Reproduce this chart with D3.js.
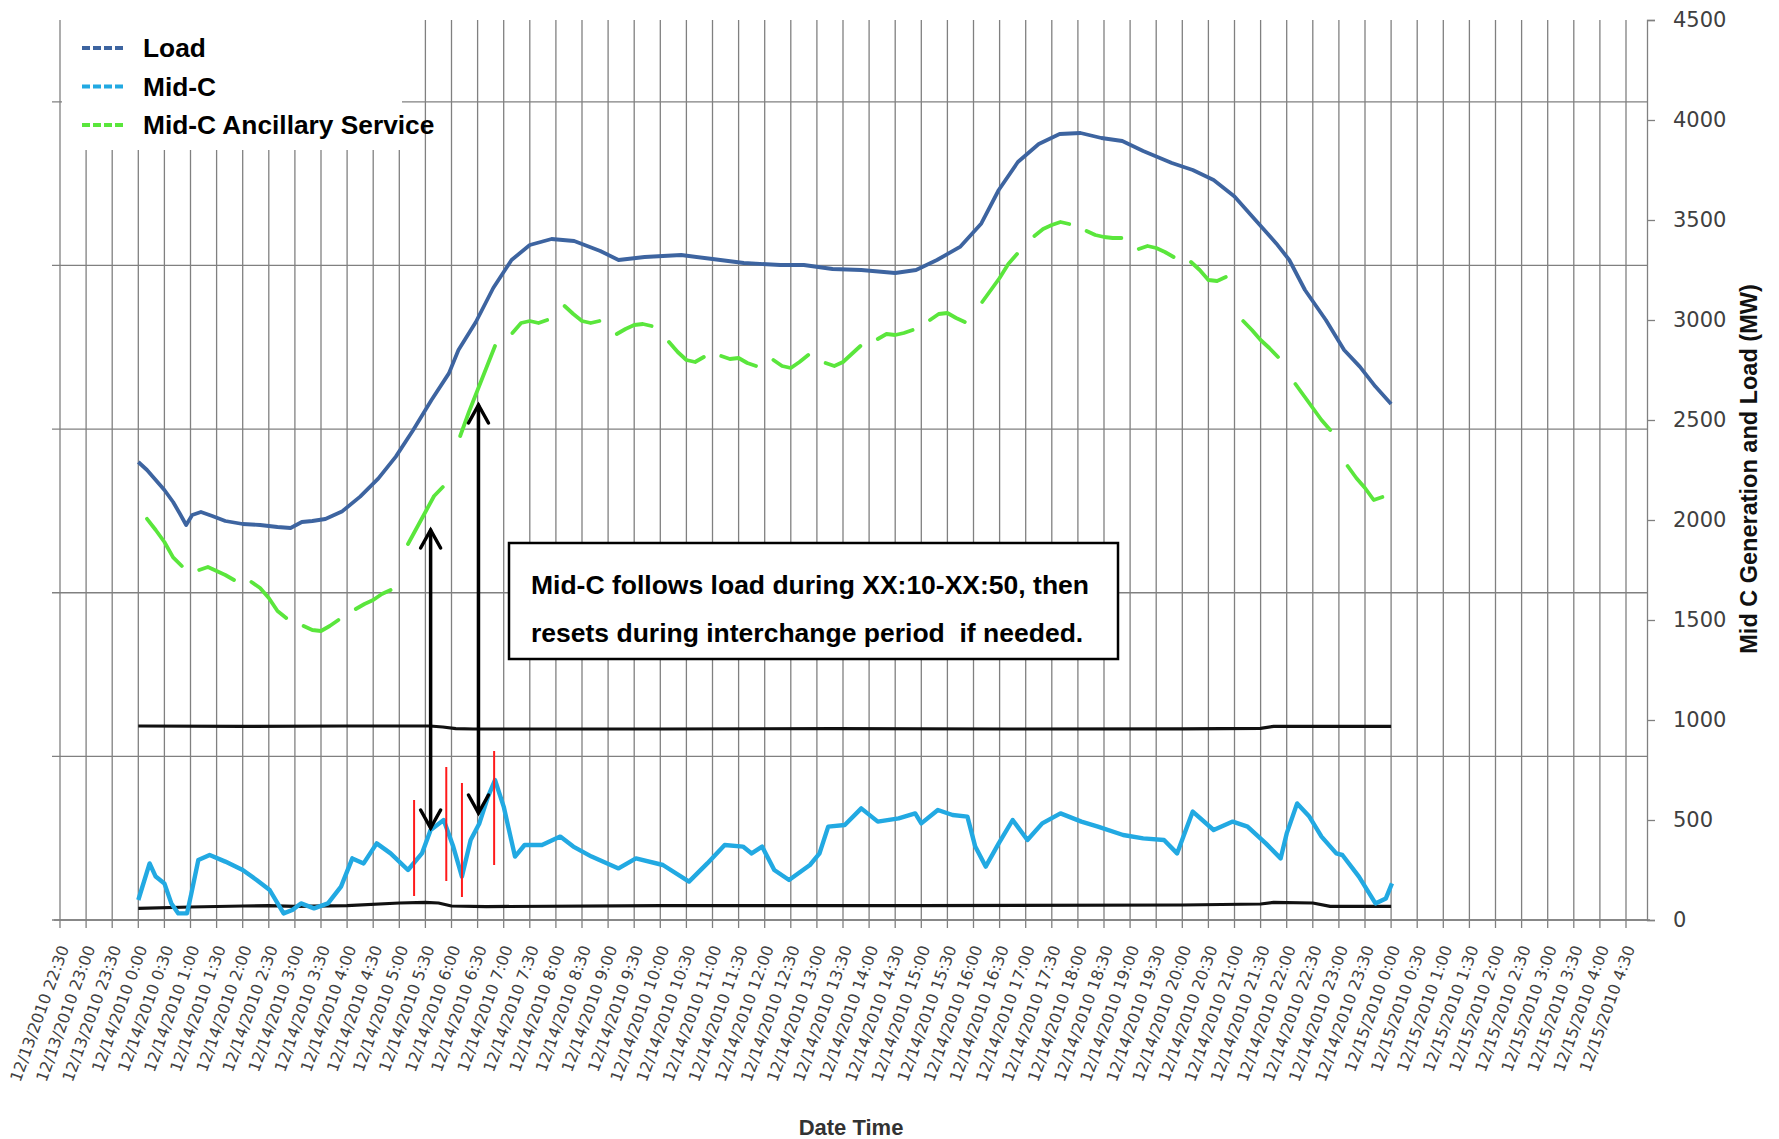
<!DOCTYPE html>
<html><head><meta charset="utf-8">
<script src="https://cdn.jsdelivr.net/npm/d3@7"></script>
<style>body{margin:0;background:#fff} svg{display:block} text{white-space:pre}</style>
</head><body>
<svg id="chart" width="1779" height="1139"></svg>
<script>
// ---------- DATA ----------
const xLabels = [
"12/13/2010 22:30","12/13/2010 23:00","12/13/2010 23:30",
"12/14/2010 0:00","12/14/2010 0:30","12/14/2010 1:00","12/14/2010 1:30","12/14/2010 2:00","12/14/2010 2:30",
"12/14/2010 3:00","12/14/2010 3:30","12/14/2010 4:00","12/14/2010 4:30","12/14/2010 5:00","12/14/2010 5:30",
"12/14/2010 6:00","12/14/2010 6:30","12/14/2010 7:00","12/14/2010 7:30","12/14/2010 8:00","12/14/2010 8:30",
"12/14/2010 9:00","12/14/2010 9:30","12/14/2010 10:00","12/14/2010 10:30","12/14/2010 11:00","12/14/2010 11:30",
"12/14/2010 12:00","12/14/2010 12:30","12/14/2010 13:00","12/14/2010 13:30","12/14/2010 14:00","12/14/2010 14:30",
"12/14/2010 15:00","12/14/2010 15:30","12/14/2010 16:00","12/14/2010 16:30","12/14/2010 17:00","12/14/2010 17:30",
"12/14/2010 18:00","12/14/2010 18:30","12/14/2010 19:00","12/14/2010 19:30","12/14/2010 20:00","12/14/2010 20:30",
"12/14/2010 21:00","12/14/2010 21:30","12/14/2010 22:00","12/14/2010 22:30","12/14/2010 23:00","12/14/2010 23:30",
"12/15/2010 0:00","12/15/2010 0:30","12/15/2010 1:00","12/15/2010 1:30","12/15/2010 2:00","12/15/2010 2:30",
"12/15/2010 3:00","12/15/2010 3:30","12/15/2010 4:00","12/15/2010 4:30"
];
// minutes relative to 12/14/2010 0:00 of each category
const xLabelMinutes = xLabels.map((d, i) => -90 + 30 * i);
const yTicks = [0, 500, 1000, 1500, 2000, 2500, 3000, 3500, 4000, 4500];
const hiddenGridTicks = [0, 1, 2, 3, 4, 5];

// [minutes since 12/14 0:00, MW]
const loadData = [[0,2290],[10,2250],[20,2200],[30,2150],[40,2090],[48,2030],[55,1975],[62,2025],[72,2040],[85,2020],[100,1995],[120,1980],[140,1975],[160,1965],[175,1960],[188,1990],[200,1995],[215,2005],[234,2042],[255,2117],[276,2208],[296,2317],[316,2450],[337,2600],[357,2733],[368,2850],[388,2990],[408,3160],[429,3300],[450,3375],[475,3405],[501,3395],[531,3345],[552,3300],[582,3315],[624,3325],[660,3305],[696,3285],[738,3275],[765,3275],[798,3255],[831,3250],[870,3235],[894,3250],[918,3300],[945,3367],[969,3483],[989,3650],[1011,3790],[1035,3880],[1059,3930],[1083,3935],[1107,3910],[1131,3895],[1155,3845],[1188,3785],[1212,3750],[1236,3700],[1260,3617],[1284,3500],[1308,3383],[1323,3300],[1341,3150],[1365,3000],[1386,2850],[1404,2767],[1422,2667],[1440,2580]];

const midcData = [[0,100],[13,283],[20,217],[30,183],[38,83],[46,33],[56,33],[61,133],[69,300],[82,325],[100,292],[120,250],[136,200],[151,150],[167,33],[177,50],[187,83],[202,58],[218,83],[233,167],[246,308],[259,283],[274,383],[290,333],[310,250],[326,333],[336,450],[351,500],[362,367],[372,217],[382,400],[392,483],[402,617],[410,700],[420,567],[433,317],[444,375],[464,375],[485,417],[500,367],[521,317],[552,258],[572,308],[603,275],[633,192],[654,283],[674,375],[695,367],[705,333],[717,367],[731,250],[748,200],[772,275],[783,333],[793,467],[812,475],[831,558],[850,492],[874,508],[893,533],[900,483],[919,550],[936,525],[953,517],[962,367],[974,267],[989,383],[1005,500],[1022,400],[1039,483],[1060,533],[1084,492],[1103,467],[1132,425],[1155,408],[1179,400],[1194,333],[1212,542],[1236,450],[1258,492],[1275,467],[1296,383],[1313,308],[1320,433],[1332,583],[1346,517],[1360,417],[1377,333],[1384,325],[1403,217],[1422,83],[1434,108],[1441,183]];

// Ancillary service: one segment per hour, values at XX:10, :20, :30, :40, :50
const ancillaryMinuteOffsets = [10, 20, 30, 40, 50];
const ancillaryHourly = [
[2006,1950,1890,1813,1770],[1750,1765,1745,1725,1700],[1690,1660,1610,1545,1510],[1470,1450,1445,1470,1500],
[1555,1580,1600,1630,1650],[1880,1960,2040,2120,2165],[2420,2540,2650,2760,2870],[2935,2985,2995,2985,3000],
[3070,3030,2995,2985,2995],[2930,2955,2975,2980,2970],[2890,2840,2800,2790,2815],[2820,2805,2810,2785,2770],
[2800,2770,2760,2790,2825],[2785,2770,2790,2830,2870],[2905,2930,2925,2935,2950],[3000,3030,3035,3010,2990],
[3090,3150,3210,3280,3330],[3420,3455,3475,3490,3480],[3445,3425,3415,3410,3410],[3355,3370,3360,3340,3315],
[3290,3250,3200,3195,3215],[2995,2950,2900,2860,2815],[2680,2620,2560,2500,2450],[2270,2210,2160,2100,2115]
];

const upperLimit = [[0,970],[120,968],[240,970],[335,970],[350,965],[365,957],[385,955],[600,955],[800,957],[1000,955],[1200,956],[1290,958],[1305,968],[1440,968]];
const lowerLimit = [[0,58],[60,65],[120,70],[150,72],[180,68],[240,72],[300,85],[330,88],[345,85],[360,70],[400,67],[600,72],[900,72],[1200,75],[1290,80],[1305,88],[1350,85],[1370,68],[1440,68]];

const redMarks = [[317,120,600],[354,195,765],[372,115,685],[409,275,845]];
const arrowMarks = [[336,1950,460],[391,2575,535]];

const legendNames = ["Load", "Mid-C", "Mid-C Ancillary Service"];
const legendColors = ["#3d64a0", "#22a9e2", "#5ae63c"];
const noteLines = ["Mid-C follows load during XX:10-XX:50, then", "resets during interchange period  if needed."];

// ---------- CHART ----------
const svg = d3.select("#chart");
svg.append("rect").attr("width",1779).attr("height",1139).attr("fill","#fff");

const x = d3.scaleLinear().domain([-90, 1710]).range([60, 1626]);
const y = d3.scaleLinear().domain([0, 4500]).range([920, 20]);
const yHidden = d3.scaleLinear().domain([0, 5.5]).range([920, 20]);

const grid = svg.append("g").attr("stroke", "#808080").attr("stroke-width", 1.3);
grid.selectAll("line.v").data(xLabelMinutes).join("line")
  .attr("x1", d => x(d)).attr("x2", d => x(d))
  .attr("y1", 20).attr("y2", 928);
grid.selectAll("line.h").data(hiddenGridTicks).join("line")
  .attr("x1", 52).attr("x2", 1647)
  .attr("y1", d => yHidden(d)).attr("y2", d => yHidden(d));
grid.append("line").attr("x1", 54).attr("x2", 1650).attr("y1", 920).attr("y2", 920);

// right axis
const yAxis = d3.axisRight(y).tickValues(yTicks).tickSize(8).tickPadding(18).tickFormat(d3.format("d"));
const ya = svg.append("g").attr("transform", "translate(1647,0)").call(yAxis);
ya.select(".domain").attr("stroke", "#808080").attr("stroke-width", 1.3);
ya.selectAll(".tick line").attr("stroke", "#808080").attr("stroke-width", 1.3);
ya.selectAll(".tick text").attr("fill", "#404040").attr("font-family", "DejaVu Sans").attr("font-size", 21);

// x labels
svg.append("g").selectAll("text").data(xLabels).join("text")
  .attr("transform", (d, i) => `translate(${x(xLabelMinutes[i]) + 4},946) rotate(-70)`)
  .attr("text-anchor", "end").attr("dy", "0.35em")
  .attr("font-family", "DejaVu Sans").attr("font-size", 16).attr("fill", "#404040")
  .text(d => d);

// axis titles
svg.append("text").attr("x", 851).attr("y", 1135).attr("text-anchor", "middle")
  .attr("font-family", "Liberation Sans, Arial").attr("font-weight", "bold").attr("font-size", 22)
  .attr("fill", "#333").text("Date Time");
svg.append("text").attr("transform", "translate(1757,469) rotate(-90)").attr("text-anchor", "middle")
  .attr("font-family", "Liberation Sans, Arial").attr("font-weight", "bold").attr("font-size", 23.5)
  .attr("fill", "#111").text("Mid C Generation and Load (MW)");

const line = d3.line().x(d => x(d[0])).y(d => y(d[1]));

[upperLimit, lowerLimit].forEach(s => {
  svg.append("path").datum(s).attr("d", line).attr("fill", "none")
    .attr("stroke", "#111").attr("stroke-width", 3.2).attr("stroke-linejoin", "round");
});

svg.append("path").datum(loadData).attr("d", line).attr("fill", "none")
  .attr("stroke", legendColors[0]).attr("stroke-width", 3.8).attr("stroke-linejoin", "round");

const ancillaryPoints = [];
ancillaryHourly.forEach((vals, h) => {
  vals.forEach((v, j) => ancillaryPoints.push([h * 60 + ancillaryMinuteOffsets[j], v]));
  ancillaryPoints.push([h * 60 + 60, null]);
});
const lineDef = d3.line().defined(d => d[1] !== null).x(d => x(d[0])).y(d => y(d[1]));
svg.append("path").datum(ancillaryPoints).attr("d", lineDef).attr("fill", "none")
  .attr("stroke", legendColors[2]).attr("stroke-width", 3.8).attr("stroke-linejoin", "round").attr("stroke-linecap", "round");

svg.append("path").datum(midcData).attr("d", line).attr("fill", "none")
  .attr("stroke", legendColors[1]).attr("stroke-width", 4.4).attr("stroke-linejoin", "round");

svg.append("g").selectAll("line").data(redMarks).join("line")
  .attr("x1", d => x(d[0])).attr("x2", d => x(d[0]))
  .attr("y1", d => y(d[2])).attr("y2", d => y(d[1]))
  .attr("stroke", "#ff1a1a").attr("stroke-width", 2);

const ag = svg.append("g").attr("stroke", "#000").attr("stroke-width", 3.5).attr("fill", "none").attr("stroke-linecap", "round");
arrowMarks.forEach(([t, top, bot]) => {
  const ax = x(t), y1 = y(top), y2 = y(bot);
  ag.append("line").attr("x1", ax).attr("x2", ax).attr("y1", y1).attr("y2", y2);
  ag.append("path").attr("d", `M${ax-10},${y1+18}L${ax},${y1}L${ax+10},${y1+18}`);
  ag.append("path").attr("d", `M${ax-10},${y2-18}L${ax},${y2}L${ax+10},${y2-18}`);
});

svg.append("rect").attr("x", 509).attr("y", 543).attr("width", 609).attr("height", 116)
  .attr("fill", "#fff").attr("stroke", "#000").attr("stroke-width", 2.5);
svg.append("g").selectAll("text").data(noteLines).join("text")
  .attr("x", 531).attr("y", (d, i) => 594 + i * 48)
  .attr("font-family", "Liberation Sans, Arial").attr("font-weight", "bold").attr("font-size", 26.5)
  .attr("fill", "#000").text(d => d);

svg.append("rect").attr("x", 62).attr("y", 18).attr("width", 340).attr("height", 132).attr("fill", "#fff");
const lg = svg.append("g");
legendNames.forEach((n, i) => {
  const ly = 48 + i * 38.5;
  lg.append("line").attr("x1", 82).attr("x2", 123).attr("y1", ly).attr("y2", ly)
    .attr("stroke", legendColors[i]).attr("stroke-width", 4).attr("stroke-dasharray", "8,3");
  lg.append("text").attr("x", 143).attr("y", ly).attr("dy", "0.36em")
    .attr("font-family", "Liberation Sans, Arial").attr("font-weight", "bold").attr("font-size", 26.3)
    .attr("fill", "#000").text(n);
});
</script>
</body></html>
